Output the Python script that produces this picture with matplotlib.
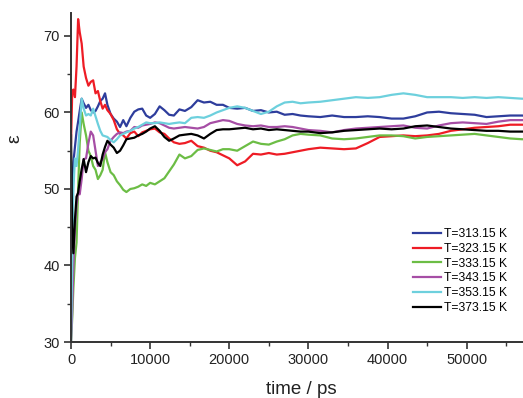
import matplotlib
matplotlib.use("Agg")
import matplotlib.pyplot as plt
from matplotlib.ticker import MultipleLocator

plt.rcParams['font.family'] = ['Liberation Sans', 'DejaVu Sans']

time_ps = [0, 150, 300, 500, 700, 900, 1100, 1350, 1600, 1900,
           2200, 2500, 2800, 3100, 3400, 3700, 4000, 4300, 4600, 5000,
           5400, 5800, 6200, 6600, 7000, 7500, 8000, 8500, 9000, 9500,
           10000, 10600, 11200, 11800, 12400, 13000, 13700, 14400, 15200, 16000,
           16800, 17600, 18400, 19200, 20000, 21000, 22000, 23000, 24000, 25000,
           26000, 27000, 28000, 29000, 30000, 31500, 33000, 34500, 36000, 37500,
           39000, 40500, 42000, 43500, 45000, 46500, 48000, 49500, 51000, 52500,
           54000, 55500, 57000, 58000]

eps_313 = [44, 50, 53.5, 55.5, 57.5, 58.8, 60.2, 61.8, 61.2, 60.6,
           61.0, 60.3, 60.0, 60.2, 60.8, 61.5, 61.8, 62.5, 61.0, 59.8,
           59.2, 58.8, 58.1, 59.0, 58.2, 59.3, 60.1, 60.4, 60.5, 59.6,
           59.3, 59.8, 60.8, 60.3, 59.7, 59.6, 60.4, 60.2, 60.7, 61.6,
           61.3, 61.4, 61.0, 61.0, 60.6, 60.5, 60.6, 60.2, 60.3, 60.0,
           60.1, 59.7, 59.8, 59.6, 59.5, 59.4, 59.6, 59.4, 59.4, 59.5,
           59.4, 59.2, 59.2, 59.5, 60.0, 60.1, 59.9, 59.8, 59.7, 59.4,
           59.5, 59.6, 59.6, 59.5]

eps_323 = [56, 62.5, 63.0, 62.0, 66.0, 72.2, 70.5, 69.0, 66.0, 64.5,
           63.5, 64.0, 64.2, 62.5, 62.8, 61.5, 60.5, 61.0, 60.3, 59.8,
           59.0, 57.8, 57.2, 57.0, 56.6, 57.3, 57.5, 56.9, 57.4, 57.6,
           57.8, 57.9, 57.4, 57.2, 56.6, 56.1, 55.9, 56.0, 56.3, 55.6,
           55.4, 55.0, 54.8, 54.4, 54.0, 53.1, 53.6, 54.6, 54.5, 54.7,
           54.5, 54.6, 54.8, 55.0, 55.2, 55.4, 55.3, 55.2, 55.3, 56.0,
           56.8, 56.9, 57.0, 56.9, 57.0, 57.2, 57.6, 57.8, 58.0, 58.1,
           58.2, 58.4, 58.4, 58.4]

eps_333 = [30, 33, 37, 41, 43, 50, 56, 60.0, 58.5, 57.0,
           55.0, 54.3, 53.0, 52.5, 51.3, 51.8, 52.5, 54.8, 53.5, 52.2,
           51.8, 51.0, 50.5, 49.9, 49.6, 50.0, 50.1, 50.3, 50.6, 50.4,
           50.8, 50.6, 51.0, 51.4, 52.3, 53.2, 54.5, 54.0, 54.3, 55.1,
           55.3, 55.1, 54.9, 55.2, 55.2, 55.0, 55.6, 56.2, 55.9, 55.8,
           56.2, 56.5, 57.0, 57.2, 57.1, 57.0, 56.6, 56.5, 56.6, 56.8,
           57.0, 57.0, 56.9, 56.6, 56.8, 56.9, 57.0, 57.1, 57.2, 57.0,
           56.8, 56.6, 56.5, 56.5]

eps_343 = [30, 34, 40, 45, 48, 49.5, 49.3, 51.3, 53.9, 54.0,
           56.0, 57.5, 57.0, 55.0, 53.0, 53.5, 53.9, 54.8, 55.2, 56.3,
           56.8, 57.2, 57.4, 57.3, 57.5, 57.6, 58.1, 58.0, 58.3, 58.4,
           58.5, 58.7, 58.6, 58.3, 58.0, 57.9, 58.0, 58.1, 58.0, 57.9,
           58.1, 58.6, 58.8, 59.0, 58.9, 58.5, 58.3, 58.2, 58.3, 58.1,
           58.1, 58.2, 58.1, 57.9, 57.7, 57.6, 57.4, 57.7, 57.9, 58.0,
           58.1, 58.2, 58.3, 58.0, 57.9, 58.3, 58.6, 58.7, 58.6, 58.5,
           58.8, 59.0, 59.0, 59.0]

eps_353 = [30, 40, 50, 54, 53, 55.2, 58, 61.8, 60.5, 59.6,
           59.8, 59.6, 60.5, 59.5, 58.5, 57.6, 57.0, 56.9, 56.8, 56.4,
           56.1, 56.5, 57.0, 57.2, 57.4, 57.6, 57.9, 58.1, 58.4, 58.7,
           58.6, 58.6, 58.7, 58.6, 58.5, 58.6, 58.7, 58.6, 59.3, 59.4,
           59.3, 59.6, 60.0, 60.3, 60.6, 60.8, 60.6, 60.2, 59.8, 60.1,
           60.8, 61.3, 61.4, 61.2, 61.3, 61.4, 61.6, 61.8, 62.0, 61.9,
           62.0, 62.3, 62.5, 62.3, 62.0, 62.0, 62.0, 61.9, 62.0, 61.9,
           62.0, 61.9, 61.8, 61.8]

eps_373 = [57, 45, 41.6, 46, 49, 49.5, 51, 52.6, 53.9, 52.2,
           53.5, 54.3, 54.0, 54.1, 53.4, 53.0, 54.5, 55.5, 56.3, 55.8,
           55.4, 54.7, 55.0, 55.7, 56.5, 56.6, 56.7, 57.0, 57.2, 57.5,
           57.9, 58.2, 57.6, 56.8, 56.3, 56.6, 57.0, 57.1, 57.2, 57.0,
           56.6, 57.2, 57.7, 57.8, 57.8, 57.9, 58.0, 57.8, 57.9, 57.7,
           57.8, 57.7, 57.6, 57.5, 57.5, 57.3, 57.4, 57.6, 57.7, 57.8,
           57.9, 57.8, 57.9, 58.2, 58.3, 58.1, 57.9, 57.8, 57.7, 57.6,
           57.6, 57.5, 57.5, 57.5]

labels = ["T=313.15 K", "T=323.15 K", "T=333.15 K", "T=343.15 K", "T=353.15 K", "T=373.15 K"]
series = [eps_313, eps_323, eps_333, eps_343, eps_353, eps_373]
colors = ["#2e3d9c", "#ee1c25", "#6cbd45", "#a64ea5", "#6dd0dd", "#000000"]

fig = plt.figure(figsize=(5.23, 3.98), dpi=100)
ax = fig.add_axes([71/523, (398-342)/398, (530-71)/523, (342-13)/398])

for vals, lab, col in zip(series, labels, colors):
    ax.plot(time_ps, vals, color=col, lw=1.6, label=lab)

ax.set_xlim(0, 58000)
ax.set_ylim(30, 73)
ax.xaxis.set_major_locator(MultipleLocator(10000))
ax.xaxis.set_minor_locator(MultipleLocator(5000))
ax.yaxis.set_major_locator(MultipleLocator(10))
ax.yaxis.set_minor_locator(MultipleLocator(5))

for s in ['top', 'right']:
    ax.spines[s].set_visible(False)
for s in ['left', 'bottom']:
    ax.spines[s].set_color('#333333')
    ax.spines[s].set_linewidth(1.4)

ax.tick_params(which='major', direction='out', length=5, width=1.2, color='#333333',
               labelsize=10.5, labelcolor='#222222', pad=3)
ax.tick_params(which='minor', direction='out', length=3, width=1.0, color='#333333')

ax.set_xlabel("time / ps", fontsize=13.5, color='#222222')
ax.xaxis.set_label_coords((301 - 71) / (530 - 71), (342 - 381) / 329)
ax.set_ylabel("ε", fontsize=14, color='#222222', rotation=90, va='center')
ax.yaxis.set_label_coords((14.5 - 71) / (530 - 71), (342 - 139) / 329)

leg = fig.legend(loc='upper left', bbox_to_anchor=(413/523, 1 - 228/398),
                 frameon=False, fontsize=8.7, handlelength=2.3, handletextpad=0.3,
                 labelspacing=0.23, borderpad=0, borderaxespad=0)

fig.savefig("out.png", dpi=100)
